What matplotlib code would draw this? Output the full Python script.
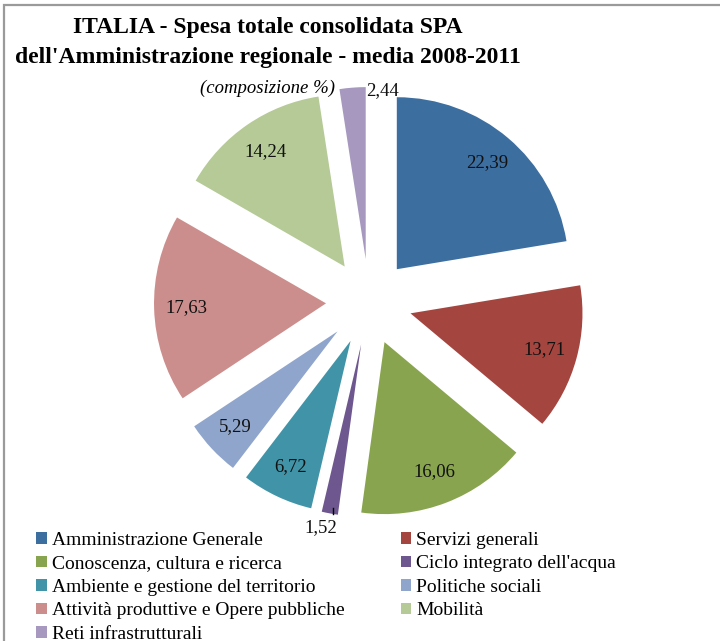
import numpy as np
import matplotlib
matplotlib.use("Agg")
import matplotlib.pyplot as plt
from matplotlib.patches import Rectangle

plt.rcParams['font.family'] = ['Liberation Serif', 'DejaVu Serif']

# ===== dati =====
categorie = ["Amministrazione Generale", "Servizi generali",
             "Conoscenza, cultura e ricerca", "Ciclo integrato dell'acqua",
             "Ambiente e gestione del territorio", "Politiche sociali",
             "Attività produttive e Opere pubbliche", "Mobilità",
             "Reti infrastrutturali"]
valori = [22.39, 13.71, 16.06, 1.52, 6.72, 5.29, 17.63, 14.24, 2.44]
colori = ["#3D6EA0", "#A4453F", "#89A44E", "#6E568F", "#4194A8",
          "#8FA5CC", "#CC8E8C", "#B5CA96", "#A698BE"]
etichette = [f"{v:.2f}".replace(".", ",") for v in valori]

# ===== figura =====
fig = plt.figure(figsize=(7.2, 6.41), dpi=100)

# bordo grigio (solo lati superiore e sinistro visibili)
fig.patches.append(Rectangle((3.5 / 720, -0.1), 1.2, 1.1 - 4.5 / 641,
                             transform=fig.transFigure, fill=False,
                             edgecolor="#9a9a9a", linewidth=1.6))

ax = fig.add_axes([0.1303, 0.0995, 0.7644, 0.8587])
wedges, _ = ax.pie(valori, colors=colori, startangle=90, counterclock=False,
                   explode=[0.25] * len(valori), radius=1,
                   wedgeprops=dict(linewidth=0))
ax.set_xlim(-1.6, 1.6)
ax.set_ylim(-1.6, 1.6)
ax.set_aspect("equal")
ax.axis("off")

# ===== etichette =====
piccole = {3: (-2.0, 1.09), 8: (-10.0, 0.985)}  # spostamento angolo, distanza
for i, w in enumerate(wedges):
    mid = np.deg2rad((w.theta1 + w.theta2) / 2)
    cx, cy = w.center
    if i in piccole:
        d_ang, dist = piccole[i]
        a = mid + np.deg2rad(d_ang)
        x, y = cx + dist * np.cos(a), cy + dist * np.sin(a)
        if i == 3:
            ax.plot([x + 0.07, x + 0.07], [y + 0.08, y + 0.11],
                    color="black", lw=1)
    else:
        x, y = cx + 0.81 * np.cos(mid), cy + 0.81 * np.sin(mid)
    ax.text(x, y, etichette[i], ha="center", va="center", fontsize=13.5,
            color="#111111")

# ===== titolo =====
fig.text(268 / 720, 1 - 27 / 641, "ITALIA - Spesa totale consolidata SPA",
         ha="center", va="center", fontsize=17, fontweight="bold")
fig.text(268 / 720, 1 - 58 / 641,
         "dell'Amministrazione regionale - media 2008-2011",
         ha="center", va="center", fontsize=17, fontweight="bold")
fig.text(268 / 720, 1 - 88 / 641, "(composizione %)", ha="center",
         va="center", fontsize=13.5, style="italic")

# ===== legenda (ordine per righe) =====
ordine = [0, 2, 4, 6, 8, 1, 3, 5, 7]
leg = fig.legend([wedges[i] for i in ordine], [categorie[i] for i in ordine],
                 ncol=2, loc="upper left", bbox_to_anchor=(36 / 720, 1 - 532 / 641),
                 frameon=False, fontsize=14, handlelength=0.55, handleheight=0.55,
                 handletextpad=0.25, columnspacing=2.9, labelspacing=0.33,
                 borderaxespad=0, borderpad=0)

fig.savefig("out.png", dpi=100)
